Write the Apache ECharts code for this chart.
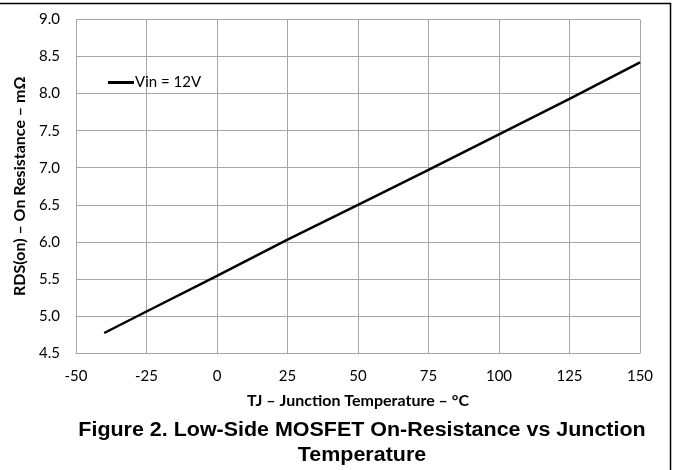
<!DOCTYPE html>
<html>
<head>
<meta charset="utf-8">
<script src="https://cdn.jsdelivr.net/npm/echarts@6/dist/echarts.min.js"></script>
<style>
  html, body { margin: 0; padding: 0; background: #fff; }
  #chart { width: 673px; height: 470px; }
</style>
</head>
<body>
<div id="chart"></div>
<script>
// 结温 (°C)
const tempC = [-40, -25, 0, 25, 50, 75, 100, 125, 150];
// RDS(on) (mΩ), Vin = 12V
const rdsOn = [4.77, 5.06, 5.54, 6.03, 6.5, 6.97, 7.45, 7.93, 8.42];
const seriesName = "Vin = 12V";
const xTitle = "TJ – Junction Temperature – °C";
const yTitle = "RDS(on) – On Resistance – mΩ";
const captionLine1 = "Figure 2. Low-Side MOSFET On-Resistance vs Junction";
const captionLine2 = "Temperature";

const captionStyle = {
  fontFamily: "Liberation Sans",
  fontWeight: "bold",
  fontSize: 19.5,
  fill: "#000",
  align: "center",
  verticalAlign: "middle",
};

const chart = echarts.init(document.getElementById("chart"));
chart.setOption({
  animation: false,
  legend: {
    data: [seriesName],
    left: 103,
    top: 70,
    icon: "rect",
    itemWidth: 26,
    itemHeight: 3,
    itemGap: 2,
    textStyle: {
      fontFamily: "Lato",
      fontSize: 15,
      color: "#000",
      padding: [0, 0, 0, -4],
    },
  },
  grid: {
    left: 76,
    right: 33,
    top: 19.5,
    bottom: 117,
  },
  xAxis: {
    type: "value",
    min: -50,
    max: 150,
    interval: 25,
    name: xTitle,
    nameLocation: "middle",
    nameGap: 40,
    nameTextStyle: {
      fontFamily: "Lato",
      fontWeight: "bold",
      fontSize: 16,
      color: "#000",
    },
    axisLine: { show: true, lineStyle: { color: "#a6a6a6", width: 1 } },
    axisTick: { show: false },
    axisLabel: {
      margin: 16,
      fontFamily: "Lato",
      fontSize: 15,
      color: "#000",
    },
    splitLine: { show: true, lineStyle: { color: "#a6a6a6", width: 1 } },
  },
  yAxis: {
    type: "value",
    min: 4.5,
    max: 9.0,
    interval: 0.5,
    name: yTitle,
    nameLocation: "middle",
    nameGap: 46,
    nameTextStyle: {
      fontFamily: "Lato",
      fontWeight: "bold",
      fontSize: 16,
      color: "#000",
    },
    axisLine: { show: true, lineStyle: { color: "#a6a6a6", width: 1 } },
    axisTick: { show: false },
    axisLabel: {
      margin: 16,
      fontFamily: "Lato",
      fontSize: 15,
      color: "#000",
      formatter: (v) => v.toFixed(1),
    },
    splitLine: { show: true, lineStyle: { color: "#a6a6a6", width: 1 } },
  },
  series: [
    {
      name: seriesName,
      type: "line",
      data: tempC.map((t, i) => [t, rdsOn[i]]),
      symbol: "none",
      itemStyle: { color: "#000" },
      lineStyle: { color: "#000", width: 2.5 },
    },
  ],
  graphic: [
    {
      type: "line",
      shape: { x1: 0, y1: 3.5, x2: 671, y2: 3.5 },
      style: { stroke: "#000", lineWidth: 1.5 },
    },
    {
      type: "line",
      shape: { x1: 670.5, y1: 3, x2: 670.5, y2: 470 },
      style: { stroke: "#000", lineWidth: 1.5 },
    },
    {
      type: "text",
      x: 362,
      y: 431,
      scaleX: 1.1,
      style: Object.assign({ text: captionLine1 }, captionStyle),
    },
    {
      type: "text",
      x: 362,
      y: 456,
      scaleX: 1.1,
      style: Object.assign({ text: captionLine2 }, captionStyle),
    },
  ],
});
</script>
</body>
</html>
